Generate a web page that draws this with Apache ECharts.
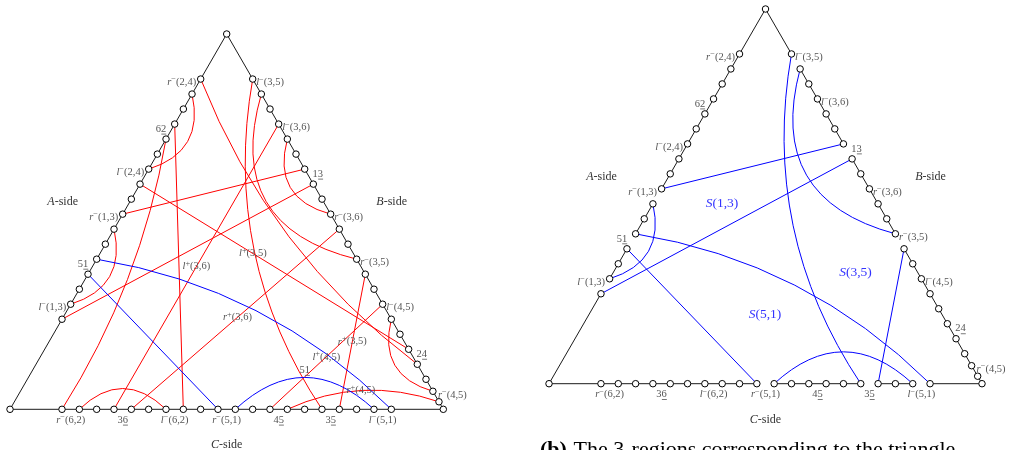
<!DOCTYPE html>
<html><head><meta charset="utf-8">
<script src="https://cdn.jsdelivr.net/npm/echarts@6/dist/echarts.min.js"></script>
<style>html,body{margin:0;padding:0;background:#fff}#c{width:1011px;height:450px}</style>
</head><body><div id="c"></div>
<script>
// ---- DATA ----
// positions of the marked points along each side, in steps of 1/25 of the side
// (A: apex -> left corner, B: apex -> right corner, C: left corner -> right corner)
const stepsA = [3,4,5,6,7,8,9,10,11,12,13,14,15,16,17,18,19];
const stepsB = [3,4,5,6,7,8,9,10,11,12,13,14,15,16,17,18,19,20,21,22,23,23.8,24.5];
const stepsC = [3,4,5,6,7,8,9,10,11,12,13,14,15,16,17,18,19,20,21,22];

// connections [from, to, bend]  (bend = bulge of the curve / chord length)
const leftRed = [
  ["A0","B19",0.07],["A1","A6",-0.23],["A3","C7",0],["A4","C0",-0.05],
  ["A7","B18",0],["A9","B6",0],["A10","A15",-0.23],["A16","B7",0],
  ["B0","C15",0.1],["B1","B12",0.26],["B3","C3",0],["B4","B9",0.25],
  ["B10","C4",0],["B13","C16",0],["B15","C12",0],["B16","B21",0.24],
  ["C1","C6",-0.24],["C13","B22",-0.1]
];
const leftBlue = [["A12","C19",-0.08],["A13","C9",0],["C10","C18",-0.23]];
const rightBlue = [
  ["B0","C15",0.1],["B1","B12",0.25],["B6","A9",0],["B7","A16",0],
  ["A12","C19",-0.08],["A13","C9",0],["A10","A15",-0.23],["C10","C18",-0.23],["B13","C16",0]
];

// edge pieces [side, fromStep, toStep]
const leftEdges = [["A",0,25],["B",0,25],["C",0,25]];
const rightEdges = [["A",0,12],["A",13,15],["A",16,18],["A",19,25],
                    ["B",0,3],["B",4,9],["B",10,15],["B",16,25],
                    ["C",0,12],["C",13,18],["C",19,21],["C",22,25]];

// labels attached to side points
const pointLabels = [
  ["A0","r⁻(2,4)"],["A4","62"],["A6","l⁻(2,4)"],["A9","r⁻(1,3)"],["A13","51"],["A15","l⁻(1,3)"],
  ["B0","l⁻(3,5)"],["B3","l⁻(3,6)"],["B7","13"],["B9","r⁻(3,6)"],["B12","r⁻(3,5)"],
  ["B15","l⁻(4,5)"],["B19","24"],["B21","r⁻(4,5)"]
];
// labels below side C [step, text]
const bottomLabels = [[3.5,"r⁻(6,2)"],[6.5,"36"],[9.5,"l⁻(6,2)"],[12.5,"r⁻(5,1)"],
                      [15.5,"45"],[18.5,"35"],[21.5,"l⁻(5,1)"]];
// labels on curves of the left triangle [from, to, t, text]
const curveLabels = [["B3","C3",0.5,"l⁺(3,6)"],["B10","C4",0.49,"r⁺(3,6)"],["A7","B18",0.42,"l⁺(3,5)"],
                     ["B13","C16",0.5,"r⁺(3,5)"],["B15","C12",0.5,"l⁺(4,5)"],["C13","B22",0.49,"r⁺(4,5)"],
                     ["C10","C18",0.5,"51"]];
const regionLabels = ["S(1,3)","S(5,1)","S(3,5)"];
const sideNames = ["A-side","B-side","C-side"];
const caption = "The 3-regions corresponding to the triangle";

// ---- LAYOUT ----
const TRI = {
  left:  {P:[226.7,34], L:[10,409.3], R:[443.3,409.3]},
  right: {P:[765.5,9],  L:[549,383.7], R:[982,383.7]}
};
const regionOffsets = [[-43.5,194.5],[-0.5,305],[90,263.5]];
const RED = '#ff0000', BLUE = '#0000ff', GRAY = '#555555';
const FONT = 'Liberation Serif';
const SMALL = 10.5;

function sidePoint(T, side, s){
  const ab = side==='A'?[T.P,T.L]:side==='B'?[T.P,T.R]:[T.L,T.R];
  return [ab[0][0]+s*(ab[1][0]-ab[0][0]), ab[0][1]+s*(ab[1][1]-ab[0][1])];
}
function pos(tri, name){
  const T = TRI[tri];
  const side = name[0], k = +name.slice(1);
  const st = (side==='A'?stepsA:side==='B'?stepsB:stepsC)[k];
  return sidePoint(T, side, st/25);
}
function connData(tri, list){
  return list.map(c => { const a=pos(tri,c[0]), b=pos(tri,c[1]); return [a[0],a[1],b[0],b[1],c[2]]; });
}
function edgeData(tri, list){
  const T = TRI[tri];
  return list.map(e => { const a=sidePoint(T,e[0],e[1]/25), b=sidePoint(T,e[0],e[2]/25); return [a[0],a[1],b[0],b[1]]; });
}
function pointData(tri){
  const T = TRI[tri], out = [T.P, T.L, T.R];
  stepsA.forEach((s,i)=>out.push(pos(tri,'A'+i)));
  stepsB.forEach((s,i)=>out.push(pos(tri,'B'+i)));
  stepsC.forEach((s,i)=>out.push(pos(tri,'C'+i)));
  return out;
}

const labels = [];
function isUnder(t){ return /^\d\d$/.test(t); }
['left','right'].forEach(tri=>{
  const T = TRI[tri];
  pointLabels.forEach(([nm,txt])=>{
    const p = pos(tri,nm), side = nm[0];
    let it;
    if (isUnder(txt)) it = {dx: side==='A'?-5:4.5, dy:-10, align:'center'};
    else if (nm==='B21') it = {dx:5, dy:3.5, align:'left'};
    else if (side==='A') it = {dx:-4.5, dy:3, align:'right'};
    else it = {dx:3.5, dy:3.3, align:'left'};
    labels.push(Object.assign(it,{x:p[0],y:p[1],text:txt,size:SMALL,color:GRAY}));
  });
  bottomLabels.forEach(([st,txt])=>{
    const p = sidePoint(T,'C',st/25);
    labels.push({x:p[0],y:p[1],dx:0,dy:10.8,align:'center',text:txt,size:SMALL,color:GRAY});
  });
  labels.push({x:T.P[0],y:T.P[1],dx:-164,dy:168,align:'center',text:sideNames[0],size:12,color:'#333'});
  labels.push({x:T.P[0],y:T.P[1],dx:165,dy:168,align:'center',text:sideNames[1],size:12,color:'#333'});
  labels.push({x:(T.L[0]+T.R[0])/2,y:T.L[1],dx:0,dy:36,align:'center',text:sideNames[2],size:12,color:'#333'});
});
const allLeft = leftRed.concat(leftBlue);
curveLabels.forEach(([f,t,tt,txt])=>{
  const c = allLeft.find(q=>q[0]===f && q[1]===t);
  const a = pos('left',f), b = pos('left',t);
  const dx=b[0]-a[0], dy=b[1]-a[1], L=Math.hypot(dx,dy), nx=-dy/L, ny=dx/L;
  const cx=(a[0]+b[0])/2+2*c[2]*L*nx, cy=(a[1]+b[1])/2+2*c[2]*L*ny;
  const u=1-tt;
  const x=u*u*a[0]+2*u*tt*cx+tt*tt*b[0], y=u*u*a[1]+2*u*tt*cy+tt*tt*b[1];
  labels.push({x,y,dx:0,dy:isUnder(txt)?-7:0,align:'center',text:txt,size:SMALL,color:GRAY});
});
regionLabels.forEach((txt,i)=>{
  const T = TRI.right;
  labels.push({x:T.P[0],y:T.P[1],dx:regionOffsets[i][0],dy:regionOffsets[i][1],align:'center',text:txt,size:13.5,color:'#3333ff'});
});

// rich-text markup: italic first letter, superscript sign
function richText(txt){
  const m = txt.match(/^([rl])([⁻⁺])(.*)$/);
  if (m) return '{i|'+m[1]+'}{s|'+(m[2]==='⁻'?'−':'+')+'}{n|'+m[3]+'}';
  if (/^S\(/.test(txt) || /^[ABC]-/.test(txt)) return '{i|'+txt[0]+'}{n|'+txt.slice(1)+'}';
  return '{n|'+txt+'}';
}

// ---- CHART ----
const chart = echarts.init(document.getElementById('c'));
function curveSeries(data, color){
  return {
    type:'custom', coordinateSystem:'cartesian2d', silent:true, clip:false, z:3,
    data,
    renderItem(params, api){
      const p1 = api.coord([api.value(0),api.value(1)]), p2 = api.coord([api.value(2),api.value(3)]);
      const b = api.value(4);
      if (!b) return {type:'line', shape:{x1:p1[0],y1:p1[1],x2:p2[0],y2:p2[1]}, style:{stroke:color,lineWidth:1,fill:'none'}};
      const dx=p2[0]-p1[0], dy=p2[1]-p1[1], L=Math.hypot(dx,dy), nx=-dy/L, ny=dx/L;
      const cx=(p1[0]+p2[0])/2+2*b*L*nx, cy=(p1[1]+p2[1])/2+2*b*L*ny;
      return {type:'bezierCurve', shape:{x1:p1[0],y1:p1[1],x2:p2[0],y2:p2[1],cpx1:cx,cpy1:cy}, style:{stroke:color,lineWidth:1,fill:'none'}};
    }
  };
}
const edgeSeries = {
  type:'custom', coordinateSystem:'cartesian2d', silent:true, clip:false, z:2,
  data: edgeData('left',leftEdges).concat(edgeData('right',rightEdges)),
  renderItem(params, api){
    const p1 = api.coord([api.value(0),api.value(1)]), p2 = api.coord([api.value(2),api.value(3)]);
    return {type:'line', shape:{x1:p1[0],y1:p1[1],x2:p2[0],y2:p2[1]}, style:{stroke:'#000',lineWidth:0.9}};
  }
};
const labelSeries = {
  type:'custom', coordinateSystem:'cartesian2d', silent:true, clip:false, z:6,
  data: labels.map((l,i)=>[l.x,l.y,i]),
  renderItem(params, api){
    const l = labels[api.value(2)];
    const p = api.coord([api.value(0),api.value(1)]);
    const x = p[0]+l.dx, y = p[1]+l.dy;
    const lh = Math.round(l.size*1.3);
    const base = {fontFamily:FONT, fontSize:l.size, fill:l.color, lineHeight:lh};
    const children = [{type:'text', x, y, style:{
      text: richText(l.text), align:l.align, verticalAlign:'middle',
      fontFamily:FONT, fontSize:l.size, fill:l.color,
      rich:{ i:Object.assign({},base,{fontStyle:'italic'}),
             n:Object.assign({},base),
             s:{fontFamily:FONT, fontSize:l.size*0.8, fill:l.color, lineHeight:l.size*0.75, verticalAlign:'top'} }
    }}];
    if (isUnder(l.text)) {
      const w = l.size*0.5;
      const x0 = l.align==='center' ? x : x + w;
      children.push({type:'line', shape:{x1:x0+0.3,y1:y+5,x2:x0+w,y2:y+5}, style:{stroke:l.color,lineWidth:0.8}});
    }
    return {type:'group', children};
  }
};
chart.setOption({
  animation:false,
  grid:{left:0,top:0,right:0,bottom:0},
  xAxis:{type:'value',min:0,max:1011,show:false},
  yAxis:{type:'value',min:0,max:450,inverse:true,show:false},
  series:[
    edgeSeries,
    curveSeries(connData('left',leftRed), RED),
    curveSeries(connData('left',leftBlue), BLUE),
    curveSeries(connData('right',rightBlue), BLUE),
    {type:'scatter', silent:true, z:5, symbol:'circle', symbolSize:6.5,
     itemStyle:{color:'#fff',borderColor:'#000',borderWidth:1,opacity:1},
     data: pointData('left').concat(pointData('right'))},
    labelSeries
  ],
  graphic:[{type:'text', left:540, top:439, silent:true,
    style:{text:'{b|(b)}  {n|'+caption+'}', rich:{
      b:{fontFamily:FONT,fontSize:22,fontWeight:'bold',fill:'#000'},
      n:{fontFamily:FONT,fontSize:22,fill:'#000'}}}}]
});
</script></body></html>
